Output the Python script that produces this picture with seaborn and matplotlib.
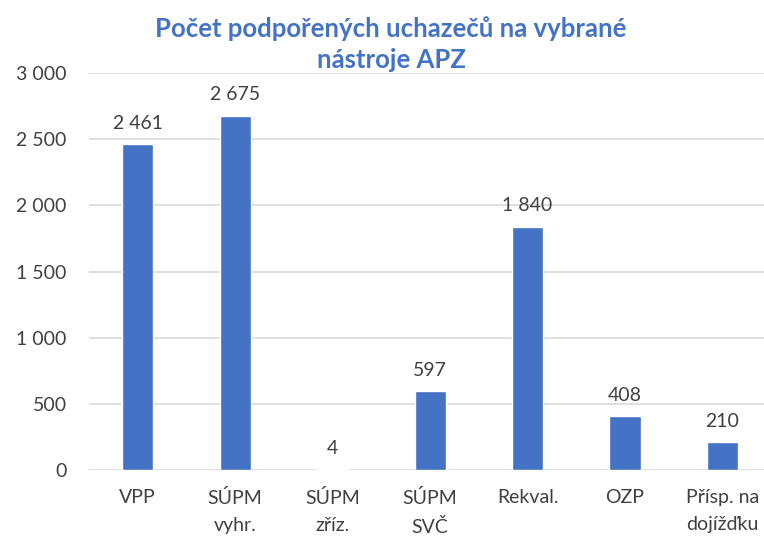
import matplotlib
matplotlib.use("Agg")
import matplotlib.pyplot as plt
import seaborn as sns
import pandas as pd

categories = ["VPP", "SÚPM\nvyhr.", "SÚPM\nzříz.", "SÚPM\nSVČ", "Rekval.", "OZP", "Přísp. na\ndojížďku"]
values = [2461, 2675, 4, 597, 1840, 408, 210]
yticks = [0, 500, 1000, 1500, 2000, 2500, 3000]
title = "Počet podpořených uchazečů na vybrané\nnástroje APZ"

sns.set_theme(style="white")
plt.rcParams['font.family'] = ['Lato', 'DejaVu Sans']

df = pd.DataFrame({"cat": categories, "val": values})
fig = plt.figure(figsize=(7.64, 5.43), dpi=100)
ax = fig.add_axes([0.1165, 0.1344, 0.893, 0.7312])
sns.barplot(data=df, x="cat", y="val", color="#4472C4", width=0.32, ax=ax, saturation=1)

def fmt(v):
    return f"{v:,}".replace(",", " ")

ax.set_ylim(0, 3000)
ax.set_yticks(yticks)
ax.set_yticklabels([fmt(t) for t in yticks])
ax.yaxis.grid(True, color="#D9D9D9", linewidth=1.2)
ax.set_axisbelow(True)
for s in ax.spines.values():
    s.set_visible(False)
ax.tick_params(axis="both", length=0, labelsize=14, colors="#404040")
ax.tick_params(axis="y", pad=16)
ax.tick_params(axis="x", pad=14)
for lab in ax.get_xticklabels():
    lab.set_linespacing(1.7)
ax.set_xlabel("")
ax.set_ylabel("")

for i, v in enumerate(values):
    ax.annotate(fmt(v), (i, v), xytext=(0, 9), textcoords="offset points",
                ha="center", va="bottom", fontsize=14, color="#404040")

fig.text(0.512, 0.918, title, ha="center", va="center", fontsize=18.5, fontweight="bold",
         color="#4472C4", linespacing=1.35)

fig.savefig("out.png", dpi=100)
